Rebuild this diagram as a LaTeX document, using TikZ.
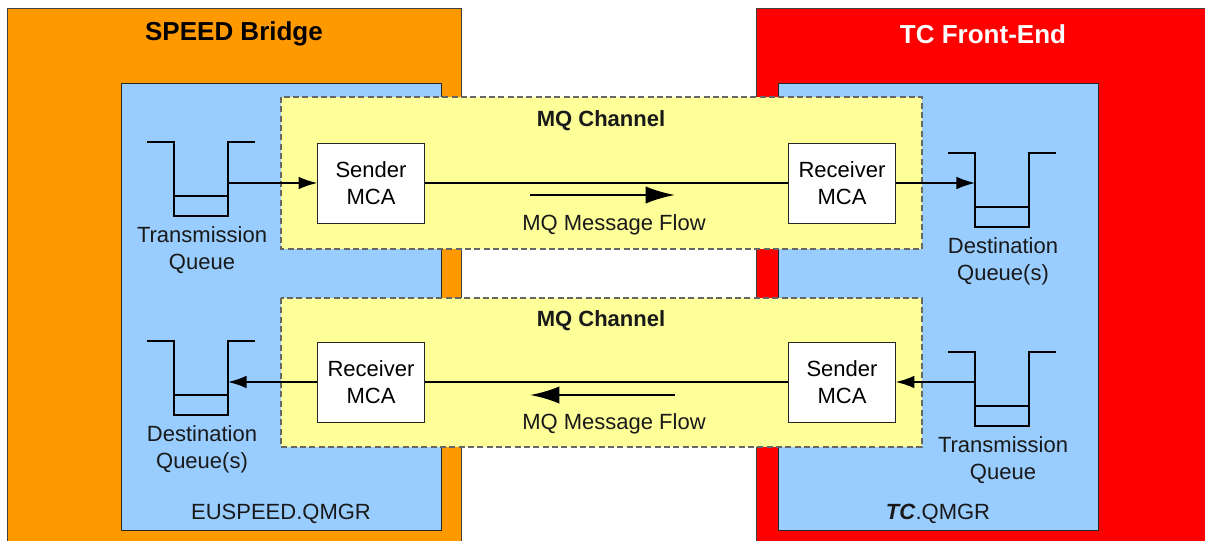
\documentclass[tikz,border=0pt]{standalone}
\usepackage{fontspec}
\setmainfont{Liberation Sans}
\usetikzlibrary{arrows.meta}

\tikzset{>=latex}
\definecolor{bridgecol}{HTML}{FF9900}
\definecolor{frontcol}{HTML}{FF0000}
\definecolor{qmgrcol}{HTML}{99CCFF}
\definecolor{chancol}{HTML}{FFFF99}
\colorlet{edgecol}{black!75}
\tikzstyle{host}=[draw=edgecol,line width=0.7pt]
\tikzstyle{qmgr}=[draw=black!85,fill=qmgrcol,line width=0.7pt]
\tikzstyle{channel}=[draw=black!60,fill=chancol,dash pattern=on 4.5pt off 2.5pt,line width=1pt]
\tikzstyle{mca}=[draw=black!85,fill=white,line width=0.7pt,minimum width=80pt,minimum height=60pt,
  inner sep=0pt,align=center,font=\fontsize{16.5}{20}\selectfont]
\tikzstyle{txt}=[align=center,text=black!90,font=\fontsize{16.5}{20}\selectfont]
\tikzstyle{title}=[font=\fontsize{19.5}{23}\selectfont\bfseries]
\tikzstyle{qline}=[line width=1.8pt]
\tikzstyle{link}=[-{Latex[length=14pt,width=9.5pt]},line width=1.1pt]
\tikzstyle{flow}=[-{Latex[length=22pt,width=13pt]},line width=2pt]
% queue: name, top centre, label
\def\queue#1#2#3{%
  \coordinate (#1) at #2;
  \draw[qline] (#1) ++(-54,0) -- ++(27,0) coordinate (#1-w) -- ++(0,74) -- ++(54,0)
    -- ++(0,-74) coordinate (#1-e) -- ++(27,0);
  \draw[qline,line width=1.3pt] (#1) ++(-27,54) -- ++(54,0);
  \path (#1) ++(1,108) node[txt] (#1-lbl) {#3};
}

\begin{document}
\begin{tikzpicture}[x=0.75pt,y=-0.75pt]
  \useasboundingbox (0,0) rectangle (1205,541);

  % HOSTS
  \draw[host,fill=bridgecol] (7,8) rectangle (461,560);
  \draw[host,fill=frontcol] (756,8) rectangle (1215,560);
  \node[title] (bridge) at (234,34) {SPEED Bridge};
  \node[title,white] (front) at (983,34) {TC Front-End};

  % QUEUE MANAGERS
  \draw[qmgr] (121,83) rectangle (441,530);
  \draw[qmgr] (778,83) rectangle (1098,530);
  \node[txt] (qm1) at (281,514) {EUSPEED.QMGR};
  \node[txt] (qm2) at (938,514) {\textbf{\textit{TC}}.QMGR};

  % CHANNELS
  \draw[channel] (281,97) rectangle (922,249);
  \draw[channel] (281,298) rectangle (922,447);
  \node[txt,font=\fontsize{16.5}{20}\selectfont\bfseries] (ch1) at (601,121) {MQ Channel};
  \node[txt,font=\fontsize{16.5}{20}\selectfont\bfseries] (ch2) at (601,321) {MQ Channel};

  % AGENTS
  \node[mca] (snd1) at (371,183) {Sender\\MCA};
  \node[mca] (rcv1) at (842,183) {Receiver\\MCA};
  \node[mca] (rcv2) at (371,382) {Receiver\\MCA};
  \node[mca] (snd2) at (842,382) {Sender\\MCA};

  % QUEUES
  \queue{tq1}{(201,142)}{Transmission\\Queue}
  \queue{dq1}{(1002,153)}{Destination\\Queue(s)}
  \queue{dq2}{(201,341)}{Destination\\Queue(s)}
  \queue{tq2}{(1002,352)}{Transmission\\Queue}

  % LINKS
  \draw[link] (tq1-e |- snd1) -- (snd1.west);
  \draw[line width=1.1pt] (snd1.east) -- (rcv1.west);
  \draw[link] (rcv1.east) -- (dq1-w |- rcv1);
  \draw[link] (tq2-w |- snd2) -- (snd2.east);
  \draw[line width=1.1pt] (snd2.west) -- (rcv2.east);
  \draw[link] (rcv2.west) -- (dq2-e |- rcv2);

  % FLOW
  \draw[flow] (530,195) -- (675,195);
  \node[txt] (flow1) at (614,225) {MQ Message Flow};
  \draw[flow] (675,395) -- (530,395);
  \node[txt] (flow2) at (614,424) {MQ Message Flow};
\end{tikzpicture}
\end{document}
